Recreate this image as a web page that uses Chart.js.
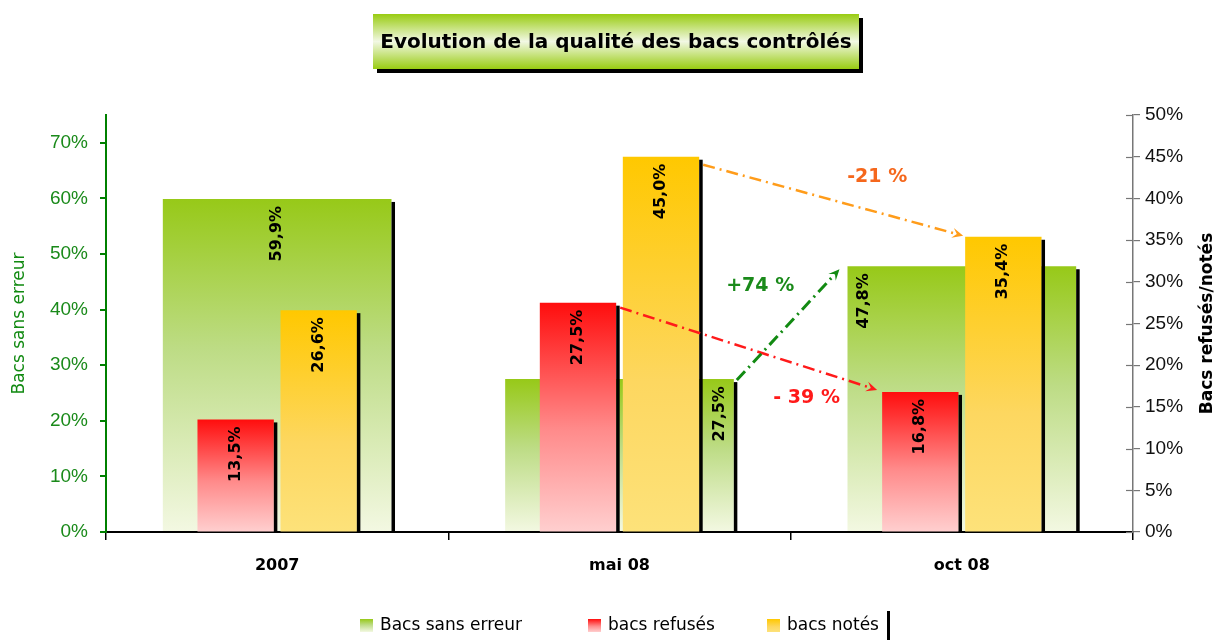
<!DOCTYPE html>
<html>
<head>
<meta charset="utf-8">
<script src="https://cdn.jsdelivr.net/npm/chart.js@4.4.0/dist/chart.umd.min.js"></script>
<style>
  html, body { margin: 0; padding: 0; background: #fff; }
</style>
</head>
<body>
<canvas id="chart" width="1219" height="640"></canvas>
<script>
// data
const categories = ['2007', 'mai 08', 'oct 08'];
const sansErreur = [59.9, 27.5, 47.8];   // left axis
const refuses = [13.5, 27.5, 16.8];      // right axis
const notes = [26.6, 45.0, 35.4];        // right axis
const leftMax = 75, leftStep = 10;
const rightMax = 50, rightStep = 5;
const seriesNames = ['Bacs sans erreur', 'bacs refusés', 'bacs notés'];
const evolutionLabels = ['- 39 %', '-21 %', '+74 %'];
const chartTitle = 'Evolution de la qualité des bacs contrôlés';

const FONT = '"DejaVu Sans", Verdana, sans-serif';

const greenStops = [[0, '#97c918'], [0.45, '#bddc85'], [1, '#f3f8e2']];
const redStops = [[0, '#ff0d0d'], [0.55, '#ff8a8a'], [1, '#ffcfcf']];
const yellowStops = [[0, '#ffc800'], [0.6, '#fdd760'], [1, '#fde27a']];

function barGradient(stops) {
    return function (ctx) {
        const chart = ctx.chart;
        if (!chart.chartArea || ctx.type !== 'data') return stops[0][1];
        const ds = chart.data.datasets[ctx.datasetIndex];
        const scale = chart.scales[ds.yAxisID];
        const top = scale.getPixelForValue(ctx.raw);
        const bottom = scale.getPixelForValue(0);
        const g = chart.ctx.createLinearGradient(0, top, 0, bottom);
        stops.forEach(s => g.addColorStop(s[0], s[1]));
        return g;
    };
}

const fmt = v => v.toFixed(1).replace('.', ',') + '%';

// white page, title box, shadows, labels, arrows, legend
const decor = {
    id: 'decor',
    beforeDraw(chart) {
        const c = chart.ctx;
        c.save();
        c.fillStyle = '#fff';
        c.fillRect(0, 0, chart.width, chart.height);
        // title box with shadow
        const bx = 373, by = 14, bw = 486, bh = 55;
        c.fillStyle = '#000';
        c.fillRect(bx + 4, by + 4, bw, bh);
        const g = c.createLinearGradient(0, by, 0, by + bh);
        g.addColorStop(0, '#99cc12');
        g.addColorStop(0.5, '#f2f8e4');
        g.addColorStop(1, '#99cc12');
        c.fillStyle = g;
        c.fillRect(bx, by, bw, bh);
        let size = 22;
        c.font = 'bold ' + size + 'px ' + FONT;
        while (c.measureText(chartTitle).width > 476 && size > 10) {
            size -= 0.5;
            c.font = 'bold ' + size + 'px ' + FONT;
        }
        c.fillStyle = '#000';
        c.textAlign = 'center';
        c.textBaseline = 'middle';
        c.fillText(chartTitle, bx + bw / 2, by + bh / 2 + 1);
        c.restore();
    },
    afterDatasetDraw(chart, args) {
        // black shadow on the right of each bar
        const c = chart.ctx;
        c.save();
        c.fillStyle = '#000';
        args.meta.data.forEach(bar => {
            c.fillRect(bar.x + bar.width / 2, bar.y + 3, 3.5, bar.base - bar.y - 3);
        });
        c.restore();
    },
    afterDatasetsDraw(chart) {
        const c = chart.ctx;
        c.save();
        // value labels, rotated
        const greenShift = [0, 0.44, -0.43];
        c.font = 'bold 16px ' + FONT;
        c.fillStyle = '#000';
        c.textAlign = 'right';
        c.textBaseline = 'middle';
        chart.data.datasets.forEach((ds, di) => {
            chart.getDatasetMeta(di).data.forEach((bar, i) => {
                let x = bar.x;
                if (di === 0) x += greenShift[i] * bar.width;
                c.save();
                c.translate(x, bar.y + 7);
                c.rotate(-Math.PI / 2);
                c.fillText(fmt(ds.data[i]), 0, 0);
                c.restore();
            });
        });

        // evolution arrows
        const g = chart.getDatasetMeta(0).data;
        const r = chart.getDatasetMeta(1).data;
        const y = chart.getDatasetMeta(2).data;
        const arrows = [
            { col: '#ff1a1a', txt: '#ff1a1a', lw: 2.5,
              a: [r[1].x + r[1].width / 2 + 4, r[1].y + 5], b: [r[2].x - r[2].width / 2 - 5, r[2].y - 2], off: [58, 49] },
            { col: '#ff9c1a', txt: '#f5671c', lw: 2.5,
              a: [y[1].x + y[1].width / 2 + 4, y[1].y + 8], b: [y[2].x - y[2].width / 2 - 2, y[2].y - 1], off: [44, -23] },
            { col: '#128a12', txt: '#1a8a1a', lw: 3,
              a: [g[1].x + g[1].width / 2 + 3, g[1].y + 1], b: [g[2].x - g[2].width / 2 - 8, g[2].y + 3], off: [-28, -39] }
        ];
        arrows.forEach((ar, k) => {
            const [x1, y1] = ar.a, [x2, y2] = ar.b;
            const ang = Math.atan2(y2 - y1, x2 - x1);
            const len = 11;
            c.strokeStyle = ar.col;
            c.lineWidth = ar.lw;
            c.setLineDash([12, 5, 2, 5]);
            c.beginPath();
            c.moveTo(x1, y1);
            c.lineTo(x2 - Math.cos(ang) * len * 0.6, y2 - Math.sin(ang) * len * 0.6);
            c.stroke();
            c.setLineDash([]);
            c.fillStyle = ar.col;
            c.save();
            c.translate(x2, y2);
            c.rotate(ang);
            c.beginPath();
            c.moveTo(0, 0);
            c.lineTo(-len, -5);
            c.lineTo(-len * 0.6, 0);
            c.lineTo(-len, 5);
            c.closePath();
            c.fill();
            c.restore();
            c.font = 'bold 19px ' + FONT;
            c.fillStyle = ar.txt;
            c.textAlign = 'center';
            c.textBaseline = 'middle';
            c.fillText(evolutionLabels[k], (x1 + x2) / 2 + ar.off[0], (y1 + y2) / 2 + ar.off[1]);
        });
        c.restore();
    },
    afterDraw(chart) {
        const c = chart.ctx;
        const s2 = chart.scales.y2;
        c.save();
        // inner tick marks of right axis
        c.strokeStyle = '#777';
        c.lineWidth = 1.2;
        s2.ticks.forEach(t => {
            const py = Math.round(s2.getPixelForValue(t.value)) + 0.5;
            c.beginPath();
            c.moveTo(s2.left - 7, py);
            c.lineTo(s2.left, py);
            c.stroke();
        });
        // right axis title
        c.font = 'bold 17px ' + FONT;
        c.fillStyle = '#000';
        c.textAlign = 'center';
        c.textBaseline = 'middle';
        c.translate(1208, (chart.chartArea.top + chart.chartArea.bottom) / 2);
        c.rotate(-Math.PI / 2);
        c.fillText('Bacs refusés/notés', 0, 0);
        c.restore();

        // legend
        c.save();
        const lx = [360, 588, 767];
        const stops = [greenStops, redStops, yellowStops];
        const ly = 626;
        c.font = '17px ' + FONT;
        c.textAlign = 'left';
        c.textBaseline = 'middle';
        seriesNames.forEach((name, i) => {
            const gr = c.createLinearGradient(0, ly - 7, 0, ly + 6);
            stops[i].forEach(s => gr.addColorStop(s[0], s[1]));
            c.fillStyle = gr;
            c.fillRect(lx[i], ly - 7, 13, 13);
            c.fillStyle = '#000';
            c.fillText(name, lx[i] + 20, ly);
        });
        c.fillStyle = '#000';
        c.fillRect(887, 611, 3, 29);
        c.restore();
    }
};

new Chart(document.getElementById('chart'), {
    type: 'bar',
    data: {
        labels: categories,
        datasets: [
            {
                label: seriesNames[0],
                data: sansErreur,
                yAxisID: 'y',
                grouped: false,
                order: 2,
                barPercentage: 0.668,
                categoryPercentage: 1,
                backgroundColor: barGradient(greenStops)
            },
            {
                label: seriesNames[1],
                data: refuses,
                yAxisID: 'y2',
                order: 1,
                barPercentage: 0.92,
                categoryPercentage: 0.485,
                backgroundColor: barGradient(redStops)
            },
            {
                label: seriesNames[2],
                data: notes,
                yAxisID: 'y2',
                order: 1,
                barPercentage: 0.92,
                categoryPercentage: 0.485,
                backgroundColor: barGradient(yellowStops)
            }
        ]
    },
    options: {
        responsive: false,
        animation: false,
        devicePixelRatio: 1,
        layout: { padding: { top: 115, left: 0, right: 0, bottom: 0 } },
        plugins: {
            legend: { display: false },
            tooltip: { enabled: false }
        },
        scales: {
            x: {
                afterFit: s => { s.height = 108; },
                border: { color: '#000', width: 2 },
                grid: { drawOnChartArea: false, color: '#000', lineWidth: 1.5, tickLength: 8 },
                ticks: { color: '#000', font: { family: FONT, size: 16, weight: 'bold' }, padding: 16 }
            },
            y: {
                position: 'left',
                min: 0,
                max: leftMax,
                afterFit: s => { s.width = 106; },
                afterBuildTicks: s => { s.ticks = s.ticks.filter(t => t.value <= 70); },
                border: { color: '#008000', width: 2 },
                grid: { drawOnChartArea: false, color: '#008000', lineWidth: 2, tickLength: 6 },
                ticks: {
                    stepSize: leftStep,
                    color: '#1a8a1a',
                    font: { family: '"Liberation Sans", Arial, sans-serif', size: 19 },
                    padding: 12,
                    callback: v => v + '%'
                },
                title: {
                    display: true,
                    text: 'Bacs sans erreur',
                    color: '#128a12',
                    font: { family: FONT, size: 17 },
                    padding: { top: 9, bottom: 0 }
                }
            },
            y2: {
                position: 'right',
                min: 0,
                max: rightMax,
                afterFit: s => { s.width = 86; },
                border: { color: '#777', width: 1.5 },
                grid: { drawOnChartArea: false, color: '#777', lineWidth: 1.2, tickLength: 7 },
                ticks: {
                    stepSize: rightStep,
                    color: '#111',
                    font: { family: '"Liberation Sans", Arial, sans-serif', size: 19 },
                    padding: 5,
                    callback: v => v + '%'
                }
            }
        }
    },
    plugins: [decor]
});
</script>
</body>
</html>
